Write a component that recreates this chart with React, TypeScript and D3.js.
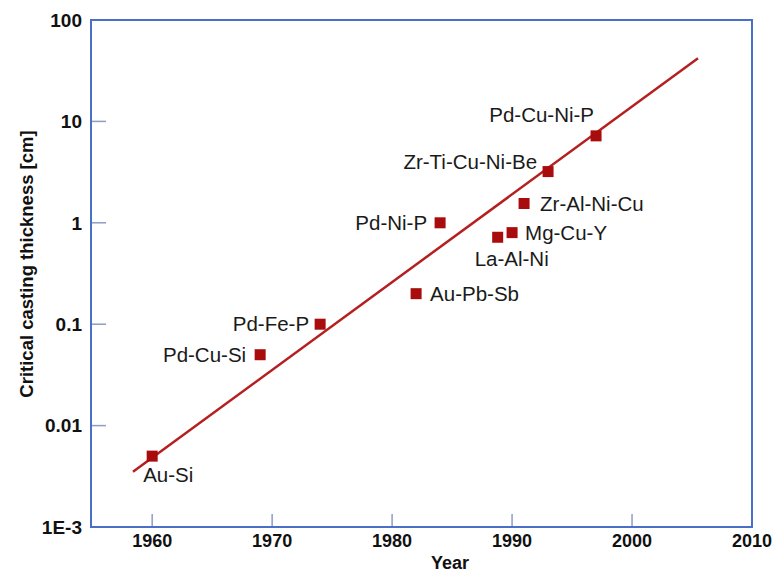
import React, { useEffect, useRef } from 'react';
import * as d3 from 'd3';

// alloy systems: year of discovery and critical casting thickness (cm)
const alloys: string[] = [
    'Au-Si', 'Pd-Cu-Si', 'Pd-Fe-P', 'Au-Pb-Sb', 'Pd-Ni-P',
    'La-Al-Ni', 'Mg-Cu-Y', 'Zr-Al-Ni-Cu', 'Zr-Ti-Cu-Ni-Be', 'Pd-Cu-Ni-P',
];
const years: number[] = [1960, 1969, 1974, 1982, 1984, 1988.8, 1990, 1991, 1993, 1997];
const thickness: number[] = [0.005, 0.05, 0.1, 0.2, 1.0, 0.72, 0.8, 1.55, 3.2, 7.2];

// trend line end points
const fitYears: number[] = [1958.4, 2005.5];
const fitValues: number[] = [0.0035, 42];

const xTicks: number[] = [1960, 1970, 1980, 1990, 2000, 2010];
const yTicks: number[] = [100, 10, 1, 0.1, 0.01, 0.001];
const yTickLabels: string[] = ['100', '10', '1', '0.1', '0.01', '1E-3'];

// label placement relative to marker: [dx, dy, anchor]
const labelPos: [number, number, string][] = [
    [-9, 26, 'start'],
    [-14, 7, 'end'],
    [-11, 7, 'end'],
    [14, 7, 'start'],
    [-13, 7, 'end'],
    [-23, 29, 'start'],
    [13, 7, 'start'],
    [16, 7, 'start'],
    [-11, -3, 'end'],
    [-2, -14, 'end'],
];

const App = () => {
    const ref = useRef<SVGSVGElement>(null);

    useEffect(() => {
        const svg = d3.select(ref.current);
        svg.selectAll('*').remove();

        const left = 91, right = 752, top = 20, bottom = 527;
        const font = 'Liberation Sans, Arial, Helvetica, sans-serif';

        const x = d3.scaleLinear().domain([1954.9, 2010]).range([left, right]);
        const y = d3.scaleLog().domain([0.001, 100]).range([bottom, top]);

        // ticks (inward)
        svg.append('g')
            .selectAll('line')
            .data(xTicks.slice(0, -1))
            .join('line')
            .attr('x1', d => x(d)).attr('x2', d => x(d))
            .attr('y1', bottom).attr('y2', bottom - 13)
            .attr('stroke', '#8e9cc8').attr('stroke-width', 1.5);

        svg.append('g')
            .selectAll('line')
            .data(yTicks.slice(1, -1))
            .join('line')
            .attr('x1', left).attr('x2', left + 15)
            .attr('y1', d => y(d)).attr('y2', d => y(d))
            .attr('stroke', '#8e9cc8').attr('stroke-width', 1.5);

        // frame
        svg.append('rect')
            .attr('x', left).attr('y', top)
            .attr('width', right - left).attr('height', bottom - top)
            .attr('fill', 'none')
            .attr('stroke', '#4a6fc6')
            .attr('stroke-width', 2);

        // tick labels
        svg.append('g')
            .selectAll('text')
            .data(xTicks)
            .join('text')
            .attr('x', d => x(d))
            .attr('y', 547)
            .attr('text-anchor', 'middle')
            .style('font-family', font)
            .style('font-size', '18px')
            .style('font-weight', 'bold')
            .style('fill', '#111')
            .text(d => d);

        svg.append('g')
            .selectAll('text')
            .data(yTicks)
            .join('text')
            .attr('x', 82)
            .attr('y', d => y(d))
            .attr('dy', '0.36em')
            .attr('text-anchor', 'end')
            .style('font-family', font)
            .style('font-size', '19px')
            .style('font-weight', 'bold')
            .style('fill', '#111')
            .text((d, i) => yTickLabels[i]);

        // axis titles
        svg.append('text')
            .attr('x', 450)
            .attr('y', 569)
            .attr('text-anchor', 'middle')
            .style('font-family', font)
            .style('font-size', '18px')
            .style('font-weight', 'bold')
            .style('fill', '#111')
            .text('Year');

        svg.append('text')
            .attr('transform', 'rotate(-90)')
            .attr('x', -264)
            .attr('y', 33)
            .attr('text-anchor', 'middle')
            .style('font-family', font)
            .style('font-size', '18.5px')
            .style('font-weight', 'bold')
            .style('fill', '#111')
            .text('Critical casting thickness [cm]');

        // trend line
        const line = d3.line<number>()
            .x(d => x(d))
            .y((d, i) => y(fitValues[i]));

        svg.append('path')
            .datum(fitYears)
            .attr('fill', 'none')
            .attr('stroke', '#b51f1f')
            .attr('stroke-width', 2.5)
            .attr('d', line);

        // markers
        const s = 11;
        svg.append('g')
            .selectAll('rect')
            .data(years)
            .join('rect')
            .attr('x', d => x(d) - s / 2)
            .attr('y', (d, i) => y(thickness[i]) - s / 2)
            .attr('width', s)
            .attr('height', s)
            .attr('fill', '#a80c0c');

        // alloy labels
        svg.append('g')
            .selectAll('text')
            .data(alloys)
            .join('text')
            .attr('x', (d, i) => x(years[i]) + labelPos[i][0])
            .attr('y', (d, i) => y(thickness[i]) + labelPos[i][1])
            .attr('text-anchor', (d, i) => labelPos[i][2])
            .style('font-family', font)
            .style('font-size', '20.5px')
            .style('fill', '#1a1a1a')
            .text(d => d);
    }, []);

    return (
        <svg
            ref={ref}
            width={772}
            height={573}
            style={{ position: 'absolute', left: 0, top: 0, background: '#fff' }}
        />
    );
};

export default App;
